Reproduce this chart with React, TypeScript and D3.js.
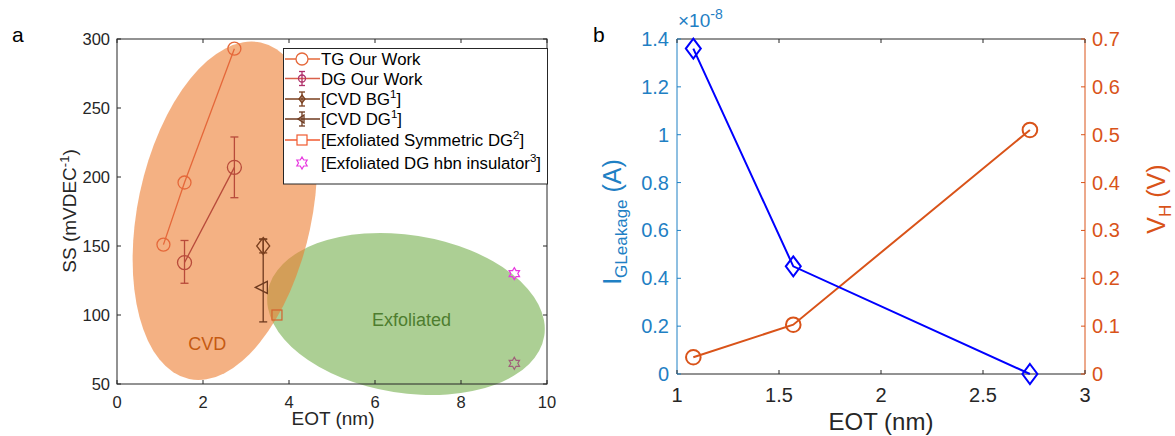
import React from "react";
import * as d3 from "d3";

// ---------- Panel a data ----------
const tgEot = [1.08, 1.57, 2.73];
const tgSS = [151, 196, 293];

const dgEot = [1.57, 2.73];
const dgSS = [138, 207];
const dgLow = [123, 185];
const dgHigh = [154, 229];

const cvdBgEot = [3.4];
const cvdBgSS = [150];
const cvdBgLow = [145];
const cvdBgHigh = [155];

const cvdDgEot = [3.38];
const cvdDgSS = [120];
const cvdDgErrX = [3.4];
const cvdDgLow = [95];
const cvdDgHigh = [155];

const exSymEot = [3.72];
const exSymSS = [100];

const hbnEot = [9.24, 9.24];
const hbnSS = [130, 65];

const aXTicks = [0, 2, 4, 6, 8, 10];
const aYTicks = [50, 100, 150, 200, 250, 300];

const legendLabels = [
  ["TG Our Work", ""],
  ["DG Our Work", ""],
  ["[CVD BG", "1", "]"],
  ["[CVD DG", "1", "]"],
  ["[Exfoliated Symmetric DG", "2", "]"],
  ["[Exfoliated DG hbn insulator", "3", "]"],
];

// ---------- Panel b data ----------
const bEot = [1.08, 1.57, 2.73];
const leakage = [1.36, 0.45, 0.0]; // x1e-8 A
const vh = [0.035, 0.103, 0.51];
const bXTicks = [1, 1.5, 2, 2.5, 3];
const bLeftTicks = [0, 0.2, 0.4, 0.6, 0.8, 1, 1.2, 1.4];
const bRightTicks = [0, 0.1, 0.2, 0.3, 0.4, 0.5, 0.6, 0.7];

const FONT = "'Liberation Sans', Arial, Helvetica, sans-serif";
const AXC = "#262626";

function hexagram(cx: number, cy: number, r: number) {
  const pts: string[] = [];
  for (let i = 0; i < 12; i++) {
    const ang = (Math.PI / 6) * i - Math.PI / 2;
    const rr = i % 2 === 0 ? r : r * 0.58;
    pts.push(`${cx + rr * Math.cos(ang)},${cy + rr * Math.sin(ang)}`);
  }
  return pts.join(" ");
}

function ErrBar({ x, y1, y2, color, cap = 4, w = 1.3 }: any) {
  return (
    <g stroke={color} strokeWidth={w}>
      <line x1={x} x2={x} y1={y1} y2={y2} />
      <line x1={x - cap} x2={x + cap} y1={y1} y2={y1} />
      <line x1={x - cap} x2={x + cap} y1={y2} y2={y2} />
    </g>
  );
}

function PanelA() {
  const x = d3.scaleLinear().domain([0, 10]).range([117, 547]);
  const y = d3.scaleLinear().domain([50, 300]).range([384, 39]);
  const line = d3
    .line<[number, number]>()
    .x((d) => x(d[0]))
    .y((d) => y(d[1]));

  const tgC = "#e5683a";
  const dgC = "#b84a3a";
  const bgC = "#7a3f1e";
  const cdC = "#6e3a1f";
  const sqC = "#d4622e";

  const tgPts = tgEot.map((e, i) => [e, tgSS[i]] as [number, number]);
  const dgPts = dgEot.map((e, i) => [e, dgSS[i]] as [number, number]);

  // annotation ellipses (centers in data units)
  const orC = [x(2.51), y(175.5)];
  const grC = [x(6.72), y(100.7)];

  const legX = 283.5, legY = 48.5, legW = 264, legH = 135.5;
  const rowsY = [59, 78.5, 99, 119, 140, 163];

  return (
    <g fontFamily={FONT}>
      <text x={12} y={42} fontSize={21} fill="#000">a</text>
      {/* ellipses */}
      <ellipse cx={grC[0]} cy={grC[1]} rx={140} ry={79}
        transform={`rotate(9 ${grC[0]} ${grC[1]})`} fill="#70ad47" fillOpacity={0.58} />
      <ellipse cx={orC[0]} cy={orC[1]} rx={87} ry={172}
        transform={`rotate(12 ${orC[0]} ${orC[1]})`} fill="#ed7d31" fillOpacity={0.6} />
      <text x={x(2.1)} y={y(75)} fontSize={18} fill="#c55a11" textAnchor="middle">CVD</text>
      <text x={x(6.85)} y={y(92)} fontSize={18} fill="#4e7d2f" textAnchor="middle">Exfoliated</text>

      {/* axes box */}
      <rect x={117} y={39} width={430} height={345} fill="none" stroke={AXC} strokeWidth={1} />
      {aXTicks.map((t) => (
        <g key={"ax" + t}>
          <line x1={x(t)} x2={x(t)} y1={384} y2={380} stroke={AXC} />
          <line x1={x(t)} x2={x(t)} y1={39} y2={43} stroke={AXC} />
          <text x={x(t)} y={408} fontSize={16.5} fill={AXC} textAnchor="middle">{t}</text>
        </g>
      ))}
      {aYTicks.map((t) => (
        <g key={"ay" + t}>
          <line x1={117} x2={121} y1={y(t)} y2={y(t)} stroke={AXC} />
          <line x1={547} x2={543} y1={y(t)} y2={y(t)} stroke={AXC} />
          <text x={110} y={y(t) + 6} fontSize={16.5} fill={AXC} textAnchor="end">{t}</text>
        </g>
      ))}
      <text x={333} y={425} fontSize={19} fill={AXC} textAnchor="middle">EOT (nm)</text>
      <text transform="translate(76 211) rotate(-90)" fontSize={19} fill={AXC} textAnchor="middle">
        SS (mVDEC<tspan dy={-7} fontSize={13}>-1</tspan><tspan dy={7}>)</tspan>
      </text>

      {/* TG */}
      <path d={line(tgPts) || ""} fill="none" stroke={tgC} strokeWidth={1.3} />
      {tgPts.map((p, i) => (
        <circle key={"tg" + i} cx={x(p[0])} cy={y(p[1])} r={6.5} fill="none" stroke={tgC} strokeWidth={1.3} />
      ))}
      {/* DG */}
      <path d={line(dgPts) || ""} fill="none" stroke={dgC} strokeWidth={1.3} />
      {dgPts.map((p, i) => (
        <g key={"dg" + i}>
          <ErrBar x={x(p[0])} y1={y(dgHigh[i])} y2={y(dgLow[i])} color={dgC} />
          <circle cx={x(p[0])} cy={y(p[1])} r={7} fill="none" stroke={dgC} strokeWidth={1.3} />
        </g>
      ))}
      {/* CVD DG */}
      {cvdDgEot.map((e, i) => (
        <g key={"cd" + i}>
          <ErrBar x={x(cvdDgErrX[i])} y1={y(cvdDgHigh[i])} y2={y(cvdDgLow[i])} color={cdC} />
          <polygon
            points={`${x(e) - 7},${y(cvdDgSS[i])} ${x(e) + 5},${y(cvdDgSS[i]) - 6} ${x(e) + 5},${y(cvdDgSS[i]) + 6}`}
            fill="none" stroke={cdC} strokeWidth={1.3} />
        </g>
      ))}
      {/* CVD BG */}
      {cvdBgEot.map((e, i) => (
        <g key={"bg" + i}>
          <ErrBar x={x(e)} y1={y(cvdBgHigh[i])} y2={y(cvdBgLow[i])} color={bgC} />
          <polygon
            points={`${x(e)},${y(cvdBgSS[i]) - 8.5} ${x(e) + 6.5},${y(cvdBgSS[i])} ${x(e)},${y(cvdBgSS[i]) + 8.5} ${x(e) - 6.5},${y(cvdBgSS[i])}`}
            fill="none" stroke={bgC} strokeWidth={1.3} />
        </g>
      ))}
      {/* Exfoliated symmetric */}
      {exSymEot.map((e, i) => (
        <rect key={"sq" + i} x={x(e) - 5} y={y(exSymSS[i]) - 5} width={10} height={10}
          fill="none" stroke={sqC} strokeWidth={1.2} />
      ))}
      {/* hbn */}
      {hbnEot.map((e, i) => (
        <polygon key={"hb" + i} points={hexagram(x(e), y(hbnSS[i]), 6)} fill="none"
          stroke={i === 0 ? "#e838e0" : "#a0607a"} strokeWidth={1.2} />
      ))}

      {/* legend */}
      <rect x={legX} y={legY} width={legW} height={legH} fill="#fff" stroke={AXC} strokeWidth={1} />
      {legendLabels.map((lab, i) => {
        const ry = rowsY[i];
        const mx = 302;
        let sym: any = null;
        if (i === 0)
          sym = (<g><line x1={285} x2={320} y1={ry} y2={ry} stroke={tgC} strokeWidth={1.3} />
            <circle cx={mx} cy={ry} r={6} fill="#fff" stroke={tgC} strokeWidth={1.3} /></g>);
        if (i === 1)
          sym = (<g><line x1={285} x2={320} y1={ry} y2={ry} stroke="#d9604a" strokeWidth={1.3} />
            <ErrBar x={mx} y1={ry - 7} y2={ry + 7} color="#b0306a" cap={3} />
            <circle cx={mx} cy={ry} r={3.5} fill="none" stroke="#b0306a" strokeWidth={1.3} /></g>);
        if (i === 2)
          sym = (<g><line x1={285} x2={320} y1={ry} y2={ry} stroke={bgC} strokeWidth={1.3} />
            <ErrBar x={mx} y1={ry - 7} y2={ry + 7} color={bgC} cap={3} />
            <polygon points={`${mx},${ry - 4} ${mx + 3},${ry} ${mx},${ry + 4} ${mx - 3},${ry}`} fill="none" stroke={bgC} strokeWidth={1.3} /></g>);
        if (i === 3)
          sym = (<g><line x1={285} x2={320} y1={ry} y2={ry} stroke={cdC} strokeWidth={1.3} />
            <ErrBar x={mx} y1={ry - 7} y2={ry + 7} color={cdC} cap={3} />
            <polygon points={`${mx - 4},${ry} ${mx + 2},${ry - 4} ${mx + 2},${ry + 4}`} fill="none" stroke={cdC} strokeWidth={1.3} /></g>);
        if (i === 4)
          sym = (<g><line x1={285} x2={320} y1={ry} y2={ry} stroke="#f05a30" strokeWidth={1.3} />
            <rect x={mx - 5} y={ry - 5} width={10} height={10} fill="#fff" stroke="#f05a30" strokeWidth={1.2} /></g>);
        if (i === 5)
          sym = <polygon points={hexagram(mx, ry, 6)} fill="none" stroke="#e838e0" strokeWidth={1.2} />;
        return (
          <g key={"lg" + i}>
            {sym}
            <text x={321} y={ry + 6} fontSize={16.8} fill="#000">
              {lab[0]}
              {lab.length > 2 ? (
                <>
                  <tspan dy={-7} fontSize={11.5}>{lab[1]}</tspan>
                  <tspan dy={7}>{lab[2]}</tspan>
                </>
              ) : null}
            </text>
          </g>
        );
      })}
    </g>
  );
}

function PanelB() {
  const x = d3.scaleLinear().domain([1, 3]).range([677, 1085]);
  const yl = d3.scaleLinear().domain([0, 1.4]).range([374, 39]);
  const yr = d3.scaleLinear().domain([0, 0.7]).range([374, 39]);
  const blue = "#0000ff";
  const orange = "#d95319";
  const lblue = "#1f80c4";
  const lineL = d3.line<number>().x((_, i) => x(bEot[i])).y((d) => yl(d));
  const lineR = d3.line<number>().x((_, i) => x(bEot[i])).y((d) => yr(d));

  return (
    <g fontFamily={FONT}>
      <text x={593} y={42} fontSize={21} fill="#000">b</text>
      {/* box lines */}
      <line x1={677} x2={1085} y1={39} y2={39} stroke={AXC} />
      <line x1={677} x2={1085} y1={374} y2={374} stroke={AXC} />
      <line x1={677} x2={677} y1={39} y2={374} stroke={lblue} />
      <line x1={1085} x2={1085} y1={39} y2={374} stroke={orange} />
      {bXTicks.map((t) => (
        <g key={"bx" + t}>
          <line x1={x(t)} x2={x(t)} y1={374} y2={370} stroke={AXC} />
          <line x1={x(t)} x2={x(t)} y1={39} y2={43} stroke={AXC} />
          <text x={x(t)} y={402} fontSize={20} fill={AXC} textAnchor="middle">{t}</text>
        </g>
      ))}
      {bLeftTicks.map((t) => (
        <g key={"bl" + t}>
          <line x1={677} x2={681} y1={yl(t)} y2={yl(t)} stroke={lblue} />
          <text x={669} y={yl(t) + 7} fontSize={20} fill={lblue} textAnchor="end">{t}</text>
        </g>
      ))}
      {bRightTicks.map((t) => (
        <g key={"br" + t}>
          <line x1={1085} x2={1081} y1={yr(t)} y2={yr(t)} stroke={orange} />
          <text x={1092} y={yr(t) + 7} fontSize={20} fill={orange} textAnchor="start">{t}</text>
        </g>
      ))}
      <text x={678} y={27} fontSize={19} fill={lblue}>
        ×10<tspan dy={-8} fontSize={14}>-8</tspan>
      </text>
      <text x={881} y={430} fontSize={24} fill={AXC} textAnchor="middle">EOT (nm)</text>
      <text transform="translate(621 222) rotate(-90)" fontSize={25} fill={lblue} textAnchor="middle">
        I<tspan dy={6} fontSize={17}>GLeakage</tspan><tspan dy={-6}> (A)</tspan>
      </text>
      <text transform="translate(1165 199) rotate(-90)" fontSize={25} fill={orange} textAnchor="middle">
        V<tspan dy={6} fontSize={17}>H</tspan><tspan dy={-6}> (V)</tspan>
      </text>

      <path d={lineR(vh) || ""} fill="none" stroke={orange} strokeWidth={2} />
      {vh.map((v, i) => (
        <circle key={"vh" + i} cx={x(bEot[i])} cy={yr(v)} r={7.3} fill="none" stroke={orange} strokeWidth={2} />
      ))}
      <path d={lineL(leakage) || ""} fill="none" stroke={blue} strokeWidth={2} />
      {leakage.map((v, i) => {
        const cx = x(bEot[i]);
        const cy = yl(v);
        return (
          <polygon key={"lk" + i}
            points={`${cx},${cy - 10} ${cx + 7.5},${cy} ${cx},${cy + 10} ${cx - 7.5},${cy}`}
            fill="none" stroke={blue} strokeWidth={2} />
        );
      })}
    </g>
  );
}

export default function App() {
  return (
    <svg width={1175} height={436} style={{ display: "block", position: "absolute", left: 0, top: 0 }}>
      <rect width={1175} height={436} fill="#fff" />
      <PanelA />
      <PanelB />
    </svg>
  );
}
